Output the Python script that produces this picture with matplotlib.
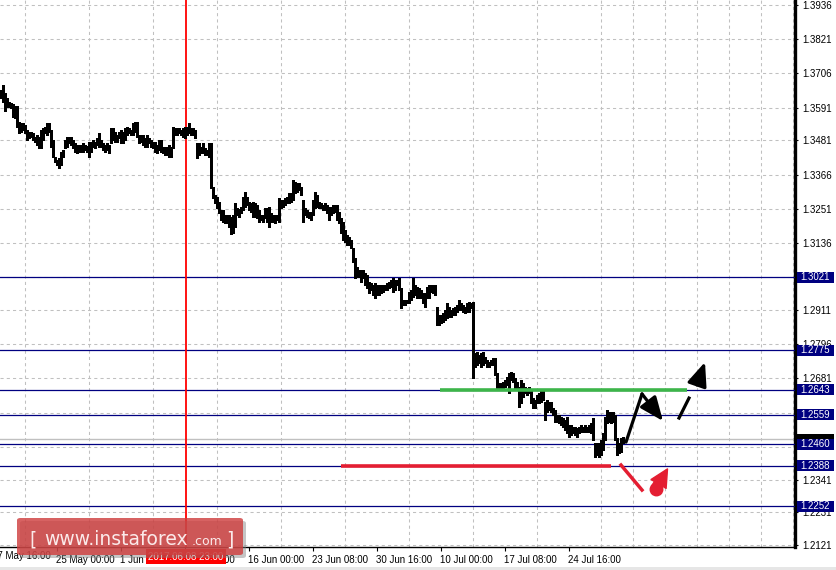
import matplotlib
matplotlib.use("Agg")
import matplotlib.pyplot as plt
from matplotlib.patches import Rectangle, FancyBboxPatch, FancyArrowPatch
from matplotlib.transforms import blended_transform_factory
import numpy as np

# ---------------- data (H4 bars) ----------------
highs = [
    1.3650, 1.3667, 1.3640, 1.3623, 1.3610, 1.3607, 1.3604, 1.3597, 1.3597, 1.3543,
    1.3540, 1.3540, 1.3533, 1.3516, 1.3509, 1.3509, 1.3506, 1.3492, 1.3499, 1.3492,
    1.3516, 1.3523, 1.3526, 1.3540, 1.3540, 1.3516, 1.3482, 1.3425, 1.3415, 1.3422,
    1.3442, 1.3449, 1.3482, 1.3492, 1.3492, 1.3492, 1.3482, 1.3472, 1.3465, 1.3465,
    1.3465, 1.3472, 1.3465, 1.3462, 1.3475, 1.3475, 1.3482, 1.3475, 1.3489, 1.3506,
    1.3482, 1.3472, 1.3465, 1.3472, 1.3465, 1.3523, 1.3523, 1.3509, 1.3499, 1.3509,
    1.3516, 1.3509, 1.3523, 1.3526, 1.3523, 1.3516, 1.3540, 1.3543, 1.3543, 1.3499,
    1.3499, 1.3499, 1.3489, 1.3499, 1.3489, 1.3482, 1.3475, 1.3475, 1.3465, 1.3482,
    1.3482, 1.3459, 1.3459, 1.3459, 1.3465, 1.3459, 1.3526, 1.3523, 1.3523, 1.3523,
    1.3516, 1.3523, 1.3526, 1.3526, 1.3540, 1.3523, 1.3523, 1.3516, 1.3472, 1.3472,
    1.3459, 1.3472, 1.3455, 1.3449, 1.3472, 1.3472, 1.3324, 1.3298, 1.3291, 1.3274,
    1.3247, 1.3247, 1.3230, 1.3230, 1.3230, 1.3224, 1.3230, 1.3271, 1.3254, 1.3250,
    1.3257, 1.3291, 1.3307, 1.3291, 1.3274, 1.3271, 1.3274, 1.3271, 1.3264, 1.3247,
    1.3230, 1.3230, 1.3254, 1.3254, 1.3257, 1.3237, 1.3230, 1.3230, 1.3230, 1.3288,
    1.3281, 1.3281, 1.3288, 1.3291, 1.3304, 1.3304, 1.3348, 1.3341, 1.3338, 1.3338,
    1.3324, 1.3281, 1.3254, 1.3247, 1.3240, 1.3240, 1.3281, 1.3307, 1.3298, 1.3274,
    1.3271, 1.3264, 1.3271, 1.3264, 1.3257, 1.3257, 1.3264, 1.3264, 1.3264, 1.3240,
    1.3220, 1.3207, 1.3180, 1.3163, 1.3156, 1.3146, 1.3119, 1.3086, 1.3056, 1.3046,
    1.3046, 1.3046, 1.3036, 1.3029, 1.3005, 1.3002, 1.2995, 1.3002, 1.2995, 1.2995,
    1.2995, 1.2995, 1.2995, 1.3002, 1.3005, 1.3012, 1.3019, 1.3012, 1.3012, 1.3019,
    1.2985, 1.2945, 1.2945, 1.2945, 1.2971, 1.2978, 1.3019, 1.2995, 1.2988, 1.2985,
    1.2978, 1.2968, 1.2968, 1.2988, 1.2995, 1.2995, 1.2995, 1.2995, 1.2921, 1.2894,
    1.2894, 1.2901, 1.2911, 1.2935, 1.2921, 1.2911, 1.2918, 1.2921, 1.2928, 1.2945,
    1.2935, 1.2928, 1.2921, 1.2935, 1.2938, 1.2935, 1.2938, 1.2767, 1.2770, 1.2760,
    1.2767, 1.2770, 1.2753, 1.2743, 1.2736, 1.2743, 1.2750, 1.2750, 1.2699, 1.2666,
    1.2666, 1.2669, 1.2676, 1.2686, 1.2699, 1.2703, 1.2699, 1.2683, 1.2669, 1.2652,
    1.2676, 1.2666, 1.2652, 1.2649, 1.2652, 1.2642, 1.2615, 1.2609, 1.2626, 1.2632,
    1.2642, 1.2642, 1.2602, 1.2609, 1.2602, 1.2602, 1.2582, 1.2575, 1.2558, 1.2558,
    1.2551, 1.2548, 1.2541, 1.2551, 1.2524, 1.2524, 1.2518, 1.2518, 1.2514, 1.2518,
    1.2524, 1.2518, 1.2524, 1.2518, 1.2524, 1.2531, 1.2548, 1.2464, 1.2464, 1.2464,
    1.2474, 1.2498, 1.2551, 1.2575, 1.2568, 1.2568, 1.2568, 1.2558, 1.2481, 1.2464,
    1.2481, 1.2484,
]
lows = [
    1.3623, 1.3610, 1.3580, 1.3593, 1.3593, 1.3590, 1.3559, 1.3556, 1.3526, 1.3506,
    1.3509, 1.3516, 1.3506, 1.3482, 1.3489, 1.3492, 1.3482, 1.3475, 1.3465, 1.3455,
    1.3455, 1.3482, 1.3506, 1.3499, 1.3509, 1.3459, 1.3425, 1.3408, 1.3398, 1.3388,
    1.3398, 1.3425, 1.3455, 1.3459, 1.3472, 1.3465, 1.3455, 1.3442, 1.3439, 1.3442,
    1.3442, 1.3442, 1.3449, 1.3442, 1.3425, 1.3442, 1.3459, 1.3455, 1.3465, 1.3459,
    1.3459, 1.3449, 1.3442, 1.3449, 1.3439, 1.3472, 1.3482, 1.3475, 1.3475, 1.3489,
    1.3472, 1.3472, 1.3482, 1.3499, 1.3506, 1.3499, 1.3499, 1.3509, 1.3492, 1.3472,
    1.3475, 1.3465, 1.3459, 1.3459, 1.3472, 1.3459, 1.3455, 1.3442, 1.3439, 1.3449,
    1.3442, 1.3439, 1.3432, 1.3432, 1.3425, 1.3425, 1.3455, 1.3499, 1.3499, 1.3506,
    1.3499, 1.3492, 1.3489, 1.3499, 1.3506, 1.3499, 1.3499, 1.3489, 1.3422, 1.3432,
    1.3439, 1.3439, 1.3432, 1.3432, 1.3425, 1.3321, 1.3288, 1.3271, 1.3254, 1.3237,
    1.3214, 1.3207, 1.3204, 1.3204, 1.3190, 1.3167, 1.3170, 1.3190, 1.3230, 1.3224,
    1.3237, 1.3247, 1.3257, 1.3264, 1.3247, 1.3240, 1.3224, 1.3224, 1.3220, 1.3207,
    1.3214, 1.3207, 1.3220, 1.3207, 1.3190, 1.3207, 1.3207, 1.3204, 1.3214, 1.3207,
    1.3254, 1.3257, 1.3264, 1.3271, 1.3271, 1.3274, 1.3281, 1.3304, 1.3307, 1.3314,
    1.3298, 1.3207, 1.3230, 1.3224, 1.3220, 1.3214, 1.3230, 1.3254, 1.3257, 1.3254,
    1.3254, 1.3247, 1.3247, 1.3237, 1.3214, 1.3230, 1.3237, 1.3240, 1.3214, 1.3204,
    1.3170, 1.3146, 1.3139, 1.3129, 1.3129, 1.3119, 1.3072, 1.3019, 1.3022, 1.3022,
    1.3005, 1.3019, 1.2995, 1.2985, 1.2968, 1.2978, 1.2961, 1.2951, 1.2961, 1.2961,
    1.2968, 1.2971, 1.2978, 1.2978, 1.2985, 1.2988, 1.2971, 1.2978, 1.2995, 1.2978,
    1.2918, 1.2928, 1.2928, 1.2935, 1.2935, 1.2945, 1.2954, 1.2961, 1.2951, 1.2951,
    1.2951, 1.2935, 1.2921, 1.2951, 1.2951, 1.2971, 1.2968, 1.2961, 1.2861, 1.2861,
    1.2867, 1.2871, 1.2878, 1.2884, 1.2888, 1.2888, 1.2894, 1.2894, 1.2904, 1.2911,
    1.2911, 1.2904, 1.2901, 1.2904, 1.2904, 1.2918, 1.2683, 1.2720, 1.2726, 1.2733,
    1.2720, 1.2726, 1.2733, 1.2720, 1.2720, 1.2726, 1.2726, 1.2693, 1.2649, 1.2649,
    1.2642, 1.2649, 1.2652, 1.2659, 1.2632, 1.2676, 1.2669, 1.2649, 1.2649, 1.2585,
    1.2599, 1.2619, 1.2632, 1.2625, 1.2632, 1.2599, 1.2582, 1.2582, 1.2599, 1.2599,
    1.2602, 1.2609, 1.2541, 1.2568, 1.2575, 1.2568, 1.2558, 1.2534, 1.2534, 1.2531,
    1.2524, 1.2518, 1.2508, 1.2498, 1.2484, 1.2491, 1.2498, 1.2491, 1.2484, 1.2498,
    1.2501, 1.2501, 1.2501, 1.2501, 1.2501, 1.2498, 1.2474, 1.2417, 1.2424, 1.2417,
    1.2424, 1.2441, 1.2474, 1.2531, 1.2534, 1.2531, 1.2534, 1.2474, 1.2424, 1.2431,
    1.2434, 1.2464,
]

price_ticks = [1.3936, 1.3821, 1.3706, 1.3591, 1.3481, 1.3366, 1.3251, 1.3136,
               1.3021, 1.2911, 1.2796, 1.2681, 1.2566, 1.2451, 1.2341, 1.2231, 1.2121]
# tick labels fully hidden behind level boxes in the original are left blank
price_tick_labels = ["1.3936", "1.3821", "1.3706", "1.3591", "1.3481", "1.3366", "1.3251", "1.3136",
                     "", "1.2911", "1.2796", "1.2681", "", "", "1.2341", "1.2231", "1.2121"]
time_tick_pos = [28, 60, 92, 124, 156, 188, 220, 252, 284]
time_tick_labels = ["25 May 00:00", "1 Jun 08:00", "8 Jun 16:00", "16 Jun 00:00",
                    "23 Jun 08:00", "30 Jun 16:00", "10 Jul 00:00", "17 Jul 08:00",
                    "24 Jul 16:00"]
first_time_pos = -4
first_time_label = "17 May 16:00"

levels = [1.3021, 1.2775, 1.2643, 1.2559, 1.2460, 1.2388, 1.2252]
level_labels = ["1.3021", "1.2775", "1.2643", "1.2559", "1.2460", "1.2388", "1.2252"]
current_price = 1.2477

vline_pos = 92.75
vline_label = "2017.06.08 23:00"

green_level = 1.2643
green_span = (219.75, 343.0)
red_level = 1.2386
red_span = (170.25, 305.25)

# forecast arrows (bar index, price)
up_down_path = [(312.75, 1.2467), (320.75, 1.2629), (331.25, 1.2538)]
dashed_up = [(339.25, 1.2548), (344.25, 1.2615), (348.25, 1.2659), (352.25, 1.2736)]
red_path = [(310.25, 1.2390), (320.75, 1.2306)]
red_head = [(327.6, 1.2310), (333.5, 1.2377)]

# ---------------- figure ----------------
FONT = "Liberation Sans"
W, H = 836, 570
fig = plt.figure(figsize=(W / 100, H / 100), dpi=100)
fig.patch.set_facecolor("white")
ax = fig.add_axes([0, 23 / H, 795 / W, 547 / H])
ax.set_facecolor("white")
ax.set_xlim(-0.25, 397.25)
ax.set_ylim(1.21145, 1.3953)

for s in ("left", "top"):
    ax.spines[s].set_visible(False)
ax.spines["right"].set_linewidth(2.4)
ax.spines["right"].set_color("black")
ax.spines["bottom"].set_linewidth(1.0)
ax.spines["bottom"].set_color("black")

ax.yaxis.tick_right()
ax.set_yticks(price_ticks)
ax.set_yticklabels(price_tick_labels, fontfamily=FONT)
ax.tick_params(axis="y", which="major", length=2.5, width=0.8, pad=2.5,
               labelsize=7, right=True, left=False, colors="black")
ax.set_xticks(time_tick_pos)
ax.set_xticklabels(time_tick_labels, fontfamily=FONT)
for lbl in ax.get_xticklabels():
    lbl.set_horizontalalignment("left")
ax.tick_params(axis="x", which="major", length=3, width=0.8, pad=2.5,
               labelsize=7, colors="black")
ax.set_xticks(np.arange(12, 397, 16), minor=True)
ax.tick_params(axis="x", which="minor", length=0)

grid_kw = dict(color="#c0c0c0", linewidth=0.75, linestyle=(0, (3, 3)))
ax.grid(which="minor", axis="x", **grid_kw)
ax.grid(which="major", axis="y", **grid_kw)
ax.grid(which="major", axis="x", visible=False)

ax.text(first_time_pos, -0.0165, first_time_label,
        transform=blended_transform_factory(ax.transData, ax.transAxes),
        ha="left", va="center", fontsize=7, fontfamily=FONT, clip_on=False)

# bars
idx = np.arange(len(highs))
ax.vlines(idx, lows, highs, colors="black", linewidth=0.75, zorder=3, antialiased=False)

# level lines
for lv in levels:
    ax.axhline(lv, color="#000080", linewidth=0.9, zorder=2.6)
ax.axhline(current_price, color="#c0c0c0", linewidth=1.0, zorder=2.5)

# red vertical line
ax.axvline(vline_pos, color="#ff0000", linewidth=1.3, zorder=2.7)

# green / red horizontals
ax.plot(green_span, [green_level, green_level], color="#3db54a", linewidth=2.6,
        solid_capstyle="butt", zorder=4)
ax.plot(red_span, [red_level, red_level], color="#e41e32", linewidth=2.6,
        solid_capstyle="butt", zorder=4)

# black arrows
(x0, y0), (x1, y1), (x2, y2) = up_down_path
ax.plot([x0, x1], [y0, y1], color="black", linewidth=2.3, solid_capstyle="round", zorder=5)
ax.add_patch(FancyArrowPatch((x1, y1), (x2, y2), arrowstyle="-|>,head_length=1.2,head_width=0.5",
                             mutation_scale=12, color="black", linewidth=2.3, zorder=5,
                             shrinkA=0, shrinkB=0))
(a0, b0), (a1, b1), (a2, b2), (a3, b3) = dashed_up
ax.plot([a0, a1], [b0, b1], color="black", linewidth=2.3, zorder=5)
ax.add_patch(FancyArrowPatch((a2, b2), (a3, b3), arrowstyle="-|>,head_length=1.2,head_width=0.5",
                             mutation_scale=12, color="black", linewidth=2.3, zorder=5,
                             shrinkA=0, shrinkB=0))

# red arrow
(r0, s0), (r1, s1) = red_path
ax.plot([r0, r1], [s0, s1], color="#e41e32", linewidth=2.5, zorder=5)
(h0, k0), (h1, k1) = red_head
ax.plot([h0], [k0], marker="o", markersize=9, color="#e41e32", zorder=5)
ax.add_patch(FancyArrowPatch((h0, k0), (h1, k1),
                             arrowstyle="simple,head_length=0.9,head_width=0.9,tail_width=0.5",
                             mutation_scale=14, color="#e41e32", zorder=5,
                             shrinkA=0, shrinkB=0))

# price label boxes
trans_r = blended_transform_factory(ax.transAxes, ax.transData)
box_w = 37 / 795
box_h = 11 * (1.3953 - 1.21145) / 547


def price_box(y, text, fc, z):
    ax.add_patch(Rectangle((1.0025, y - box_h / 2), box_w, box_h, transform=trans_r,
                           facecolor=fc, edgecolor="none", clip_on=False, zorder=z))
    if text:
        ax.text(1.0025 + box_w / 2, y, text, transform=trans_r, color="white", fontsize=7,
                fontfamily=FONT, ha="center", va="center", clip_on=False, zorder=z + 0.1)


price_box(current_price, "", "black", 6)
for lv, lb in zip(levels, level_labels):
    price_box(lv, lb, "#000080", 7)

# vertical line date label
ax.text(vline_pos, -0.0175, vline_label,
        transform=blended_transform_factory(ax.transData, ax.transAxes),
        ha="center", va="center", fontsize=7, fontfamily=FONT, color="white",
        clip_on=False, zorder=8,
        bbox=dict(boxstyle="square,pad=0.25", facecolor="#ff0000", edgecolor="none"))

# watermark
shadow = FancyBboxPatch((20 / W, 1 - 558 / H), 226 / W, 37 / H,
                        boxstyle="round,pad=0,rounding_size=0.004", transform=fig.transFigure,
                        facecolor="#808080", edgecolor="none", alpha=0.45, zorder=10)
fig.add_artist(shadow)
wm = FancyBboxPatch((17 / W, 1 - 555 / H), 226 / W, 37 / H,
                    boxstyle="round,pad=0,rounding_size=0.004", transform=fig.transFigure,
                    facecolor="#cf3f3f", edgecolor="none", alpha=0.82, zorder=11)
fig.add_artist(wm)
base_y = 1 - 545 / H
fig.text(29 / W, base_y, "[", fontsize=13.5, color="#fbeaea", ha="left", va="baseline", zorder=12)
fig.text(44 / W, base_y, "www.instaforex", fontsize=13.5, color="#fbeaea", ha="left", va="baseline", zorder=12)
fig.text(192 / W, base_y, ".com", fontsize=9, color="#fbeaea", ha="left", va="baseline", zorder=12)
fig.text(226 / W, base_y, "]", fontsize=13.5, color="#fbeaea", ha="left", va="baseline", zorder=12)

# bottom strip
fig.add_artist(Rectangle((0, 0), 1, 3.5 / H, transform=fig.transFigure, facecolor="#e6e6e6",
                         edgecolor="none", zorder=0))

fig.savefig("out.png", dpi=100, facecolor="white")
